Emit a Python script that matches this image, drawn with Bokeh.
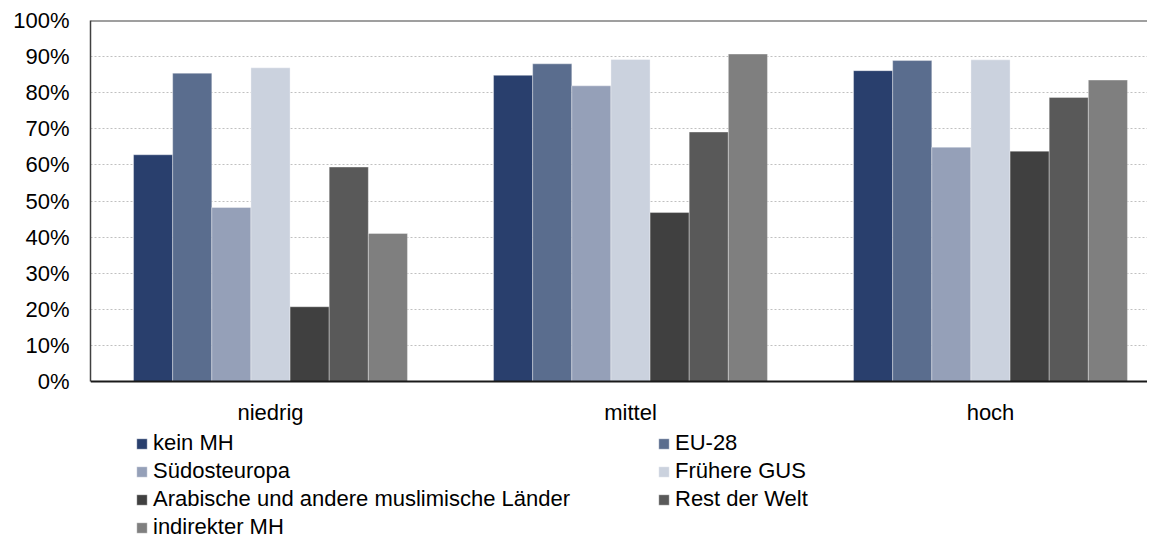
import numpy as np
from bokeh.plotting import figure
from bokeh.models import (Range1d, FixedTicker, PrintfTickFormatter, Legend, LegendItem,
                          ColumnDataSource, Span)
from bokeh.core.properties import value
from bokeh.embed import file_html
from bokeh.resources import INLINE

# ---------------- data ----------------
categories = ["niedrig", "mittel", "hoch"]
series = ["kein MH", "EU-28", "Südosteuropa", "Frühere GUS",
          "Arabische und andere muslimische Länder", "Rest der Welt", "indirekter MH"]
kein_mh = [62.8, 84.8, 86.1]
eu_28 = [85.4, 88.0, 88.9]
suedosteuropa = [48.2, 81.9, 64.9]
fruehere_gus = [86.9, 89.2, 89.1]
arabische_laender = [20.7, 46.8, 63.8]
rest_der_welt = [59.4, 69.1, 78.7]
indirekter_mh = [41.0, 90.7, 83.5]
y_ticks = list(range(0, 101, 10))

values = [kein_mh, eu_28, suedosteuropa, fruehere_gus, arabische_laender, rest_der_welt, indirekter_mh]
colors = ["#293f6d", "#5a6d8e", "#95a0b8", "#cbd2de", "#404040", "#595959", "#7f7f7f"]

FONT = "Liberation Sans"
FS = "22px"

# ---------------- layout (pixels) ----------------
W, H = 1147, 539
LEFT, TOP = 90, 20
PLOT_H = 361                       # pixel height of 0..100 %
PX_PER_UNIT = PLOT_H / 100.0
below_px = H - TOP - PLOT_H        # space under the 0 line (labels + legend)
y_min = -below_px / PX_PER_UNIT

p = figure(width=W, height=H, output_backend="svg", toolbar_location=None,
           x_axis_location=None,
           x_range=Range1d(0, (W - LEFT) / 360), y_range=Range1d(y_min, 100),
           min_border_left=LEFT, min_border_right=0, min_border_top=TOP, min_border_bottom=0)
p.outline_line_color = None
p.background_fill_color = "white"
p.border_fill_color = "white"

bar_w = 0.1087
xc = np.arange(len(categories)) + 0.5
renderers = []
for j, (name, vals, col) in enumerate(zip(series, values, colors)):
    src = ColumnDataSource(dict(x=xc + (j - (len(series) - 1) / 2) * bar_w, top=vals))
    r = p.vbar(x="x", top="top", bottom=0, width=bar_w, source=src,
               fill_color=col, line_color="white", line_alpha=0.35, line_width=1)
    renderers.append(r)

# y axis (only 0..100)
p.yaxis.ticker = FixedTicker(ticks=y_ticks)
p.yaxis.bounds = (0, 100)
p.yaxis.formatter = PrintfTickFormatter(format="%d%%")
p.yaxis.major_tick_out = 0
p.yaxis.major_tick_in = 0
p.yaxis.minor_tick_out = 0
p.yaxis.minor_tick_in = 0
p.yaxis.major_label_standoff = 21
p.yaxis.axis_line_color = "#404040"
p.yaxis.axis_line_width = 1.5
p.yaxis.major_label_text_font = FONT
p.yaxis.major_label_text_font_size = FS
p.yaxis.major_label_text_color = "#000000"

p.xgrid.visible = False
p.ygrid.ticker = FixedTicker(ticks=y_ticks[1:])
p.ygrid.grid_line_color = "#c0c0c0"
p.ygrid.grid_line_dash = "2 2"
p.ygrid.grid_line_width = 1

# frame lines: top border and category axis line
p.add_layout(Span(location=100, dimension="width", line_color="#404040", line_width=2))
p.add_layout(Span(location=0, dimension="width", line_color="#1a1a1a", line_width=2))

# category labels
cat_src = ColumnDataSource(dict(x=xc, y=[-31 / PX_PER_UNIT] * len(categories), text=categories))
p.text(x="x", y="y", text="text", source=cat_src, text_align="center", text_baseline="middle",
       text_font=value(FONT), text_font_size=FS, text_color="#000000")

def make_legend(idx, loc):
    return Legend(items=[LegendItem(label=series[i], renderers=[renderers[i]]) for i in idx],
                  location=loc, orientation="vertical",
                  glyph_width=13, glyph_height=13, label_standoff=5, spacing=0,
                  padding=0, margin=0, label_height=28,
                  border_line_color=None, background_fill_alpha=0,
                  label_text_font=FONT, label_text_font_size=FS, label_text_color="#000000")

p.add_layout(make_legend([0, 2, 4, 6], (45, -2)))
p.add_layout(make_legend([1, 3, 5], (567, 26)))

open("out.html", "w").write(file_html(p, INLINE))
